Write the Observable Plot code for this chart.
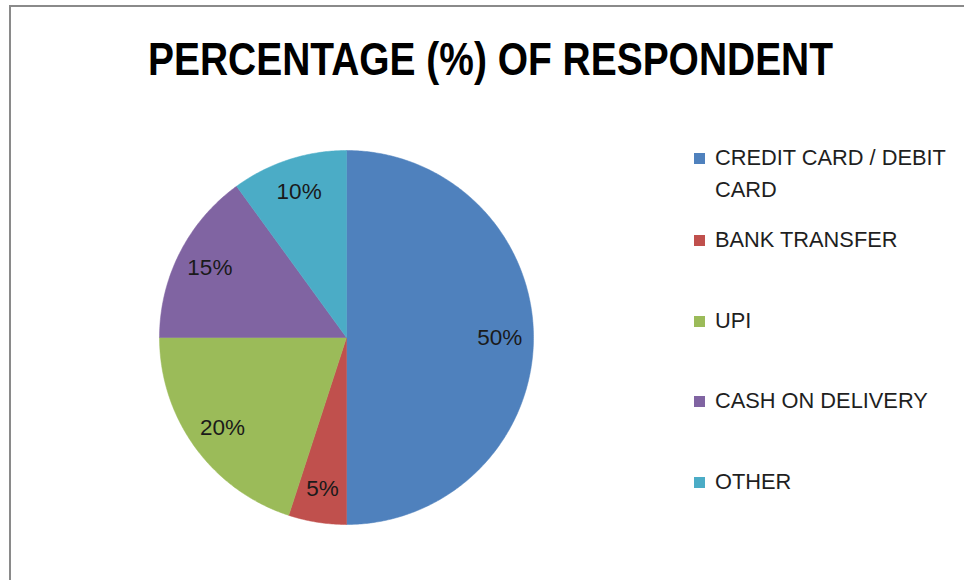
<!DOCTYPE html>
<html>
<head>
<meta charset="utf-8">
<script src="https://cdn.jsdelivr.net/npm/d3@7"></script>
<script src="https://cdn.jsdelivr.net/npm/@observablehq/plot@0.6"></script>
<style>
  html, body { margin: 0; padding: 0; background: #fff; }
  #root { position: relative; width: 964px; height: 580px; overflow: hidden; font-family: "Liberation Sans", Arial, sans-serif; }
  #frame { position: absolute; left: 9px; top: 5px; width: 1000px; height: 600px; border-top: 2px solid #8a8a8a; border-left: 2px solid #8a8a8a; }
  #title { position: absolute; left: 0; top: 0; }
  #pie { position: absolute; left: 156px; top: 147px; }
  #legend { position: absolute; left: 694px; top: 0; }
  .item { position: absolute; left: 0; white-space: nowrap; font-size: 21.8px; color: #1f1f1f; line-height: 32px; }
  .sw { position: absolute; left: 0; width: 11px; height: 11px; }
  .lbl { position: absolute; left: 21px; }
</style>
</head>
<body>
<div id="root">
  <div id="frame"></div>
  <svg id="title" width="964" height="110">
    <text x="148" y="75" textLength="685" lengthAdjust="spacingAndGlyphs" font-family="Liberation Sans, Arial, sans-serif" font-weight="bold" font-size="45.5" fill="#000">PERCENTAGE (%) OF RESPONDENT</text>
  </svg>
  <div id="pie"></div>
  <div id="legend"></div>
</div>
<script>
const categories = ["CREDIT CARD / DEBIT CARD", "BANK TRANSFER", "UPI", "CASH ON DELIVERY", "OTHER"];
const values = [50, 5, 20, 15, 10];
const labels = ["50%", "5%", "20%", "15%", "10%"];
const colors = ["#4F81BD", "#C0504D", "#9BBB59", "#8064A2", "#4BACC6"];

// Build slice polygons (clockwise from 12 o'clock) with d3.pie angles
const arcs = d3.pie().sort(null).value(d => d)(values);
const slicePts = [];
const labelPts = [];
arcs.forEach((a, i) => {
  const cat = categories[i];
  slicePts.push({cat, x: 0, y: 0});
  const n = Math.max(4, Math.ceil((a.endAngle - a.startAngle) / 0.01));
  for (let k = 0; k <= n; k++) {
    const t = a.startAngle + (a.endAngle - a.startAngle) * k / n;
    slicePts.push({cat, x: Math.sin(t), y: Math.cos(t)});
  }
  slicePts.push({cat, x: 0, y: 0});
  const m = (a.startAngle + a.endAngle) / 2;
  labelPts.push({label: labels[i], x: 0.82 * Math.sin(m), y: 0.82 * Math.cos(m)});
});

const pie = Plot.plot({
  width: 380,
  height: 380,
  margin: 3,
  x: {domain: [-1, 1], axis: null},
  y: {domain: [-1, 1], axis: null},
  color: {domain: categories, range: colors},
  marks: [
    Plot.line(slicePts, {x: "x", y: "y", z: "cat", fill: "cat", stroke: "cat", strokeWidth: 0.5, curve: "linear"}),
    Plot.text(labelPts, {x: "x", y: "y", text: "label", fontSize: 22.5, fill: "#1a1a1a", fontFamily: "Liberation Sans, Arial, sans-serif"})
  ]
});
document.getElementById("pie").appendChild(pie);

// Legend
const legendY = [158, 240, 321, 401, 482];
const legendText = ["CREDIT CARD / DEBIT<br>CARD", "BANK TRANSFER", "UPI", "CASH ON DELIVERY", "OTHER"];
const legend = document.getElementById("legend");
categories.forEach((c, i) => {
  const item = document.createElement("div");
  item.className = "item";
  item.style.top = (legendY[i] - 16) + "px";
  const sw = document.createElement("div");
  sw.className = "sw";
  sw.style.background = colors[i];
  sw.style.top = "11px";
  const lbl = document.createElement("div");
  lbl.className = "lbl";
  lbl.innerHTML = legendText[i];
  item.appendChild(sw);
  item.appendChild(lbl);
  legend.appendChild(item);
});
</script>
</body>
</html>
